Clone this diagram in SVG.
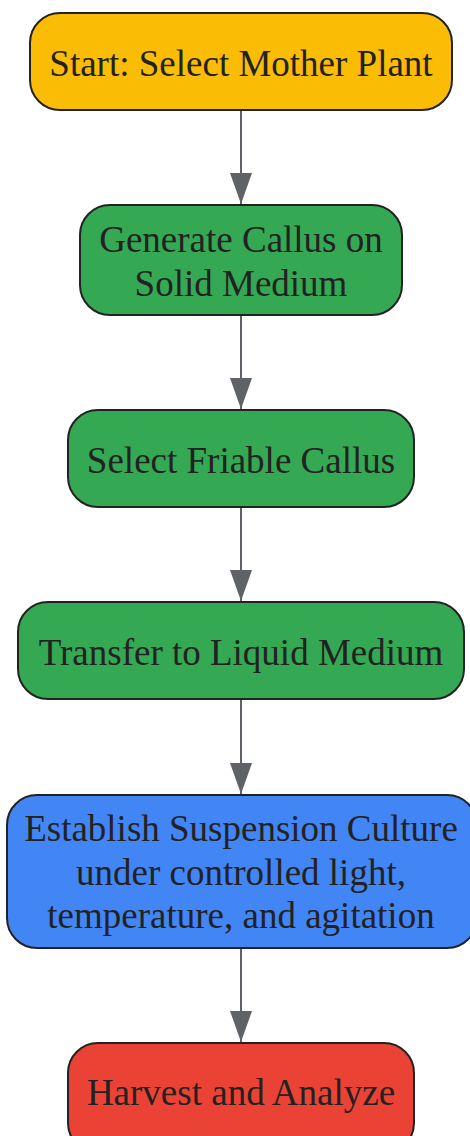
<svg xmlns="http://www.w3.org/2000/svg" width="470" height="1136" viewBox="0 0 470 1136">
<style>
.n{stroke:#222;stroke-width:2}
.t{font-family:"Liberation Serif","Times New Roman",serif;font-size:37px;fill:#222;text-anchor:middle}
.e{stroke:#5f6368;stroke-width:2;fill:none}
</style>
<defs>
<marker id="ah" markerWidth="31" markerHeight="22" refX="31" refY="11" orient="auto" markerUnits="userSpaceOnUse" viewBox="0 0 31 22"><path d="M0,0 L31,11 L0,22 Z" fill="#5f6368"/></marker>
</defs>
<g id="edges">
<line class="e" x1="241" y1="110" x2="241" y2="204" marker-end="url(#ah)"/>
<line class="e" x1="241" y1="315" x2="241" y2="409" marker-end="url(#ah)"/>
<line class="e" x1="241" y1="507" x2="241" y2="601" marker-end="url(#ah)"/>
<line class="e" x1="241" y1="699" x2="241" y2="794" marker-end="url(#ah)"/>
<line class="e" x1="241" y1="948" x2="241" y2="1042" marker-end="url(#ah)"/>
</g>
<g id="n1"><rect class="n" x="30" y="13" width="422" height="97" rx="30" fill="#fbbc05"/><text class="t" x="241" y="76">Start: Select Mother Plant</text></g>
<g id="n2"><rect class="n" x="80" y="205" width="322" height="110" rx="30" fill="#34a853"/><text class="t" x="241" y="252">Generate Callus on</text><text class="t" x="241" y="296">Solid Medium</text></g>
<g id="n3"><rect class="n" x="68" y="410" width="346" height="97" rx="30" fill="#34a853"/><text class="t" x="241" y="473">Select Friable Callus</text></g>
<g id="n4"><rect class="n" x="18" y="602" width="446" height="97" rx="30" fill="#34a853"/><text class="t" x="241" y="665">Transfer to Liquid Medium</text></g>
<g id="n5"><rect class="n" x="7" y="795" width="470" height="153" rx="30" fill="#4285f4"/><text class="t" x="241" y="841">Establish Suspension Culture</text><text class="t" x="241" y="885">under controlled light,</text><text class="t" x="241" y="928">temperature, and agitation</text></g>
<g id="n6"><rect class="n" x="68" y="1043" width="346" height="110" rx="30" fill="#ea4335"/><text class="t" x="241" y="1105">Harvest and Analyze</text></g>
</svg>
